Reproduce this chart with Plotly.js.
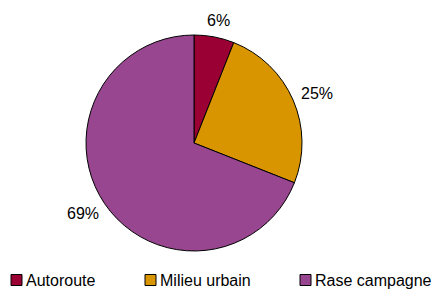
<!DOCTYPE html>
<html><head><meta charset="utf-8">
<script src="https://cdn.plot.ly/plotly-3.0.1.min.js"></script>
<style>html,body{margin:0;padding:0;background:#fff}</style>
</head><body><div id="chart" style="width:435px;height:289px"></div>
<script>
const categories = ["Autoroute", "Milieu urbain", "Rase campagne"];
const shares = [6, 25, 69];
const colors = ["#9A0033", "#D99500", "#98468F"];

const W = 435, H = 289;
const FONT = "Liberation Sans, Arial, sans-serif";
// pie geometry (pixels)
const cx = 194, cy = 143, R = 108;
// custom legend layout (pixels)
const legendLeft = [11, 145, 300];
const legendY = 280, box = 11;

const shapes = [], annotations = [];
categories.forEach((c, i) => {
  const x0 = legendLeft[i];
  shapes.push({type: "rect", xref: "paper", yref: "paper",
    x0: x0 / W, x1: (x0 + box) / W,
    y0: 1 - (legendY + box / 2) / H, y1: 1 - (legendY - box / 2) / H,
    fillcolor: colors[i], line: {color: "#000", width: 1}});
  annotations.push({xref: "paper", yref: "paper", x: (x0 + box + 2) / W, y: 1 - legendY / H,
    xanchor: "left", yanchor: "middle", text: c, showarrow: false,
    font: {family: FONT, size: 16, color: "#000"}});
});

// outside percentage labels, placed from the slice mid-angles
const total = shares.reduce((a, b) => a + b, 0);
let cum = 0;
shares.forEach((v) => {
  const mid = (cum + v / 2) / total * 2 * Math.PI;
  cum += v;
  const dx = Math.sin(mid), dy = -Math.cos(mid);
  const txt = v + "%";
  const hw = txt.length * 4.6 + 2, hh = 7;
  const px = cx + dx * (R + 10) + dx * hw;
  const py = cy + dy * (R + 10) + dy * hh;
  annotations.push({xref: "paper", yref: "paper", x: px / W, y: 1 - py / H,
    xanchor: "center", yanchor: "middle", text: txt, showarrow: false,
    font: {family: FONT, size: 16, color: "#000"}});
});

Plotly.newPlot("chart", [{
  type: "pie",
  labels: categories,
  values: shares,
  sort: false,
  direction: "clockwise",
  rotation: 0,
  marker: {colors: colors, line: {color: "#000", width: 1}},
  textinfo: "none",
  automargin: false,
  domain: {x: [(cx - R) / W, (cx + R) / W], y: [1 - (cy + R) / H, 1 - (cy - R) / H]},
  hoverinfo: "none"
}], {
  width: W, height: H,
  margin: {l: 0, r: 0, t: 0, b: 0},
  paper_bgcolor: "#fff",
  showlegend: false,
  shapes: shapes,
  annotations: annotations
}, {displayModeBar: false, staticPlot: true});
</script></body></html>
